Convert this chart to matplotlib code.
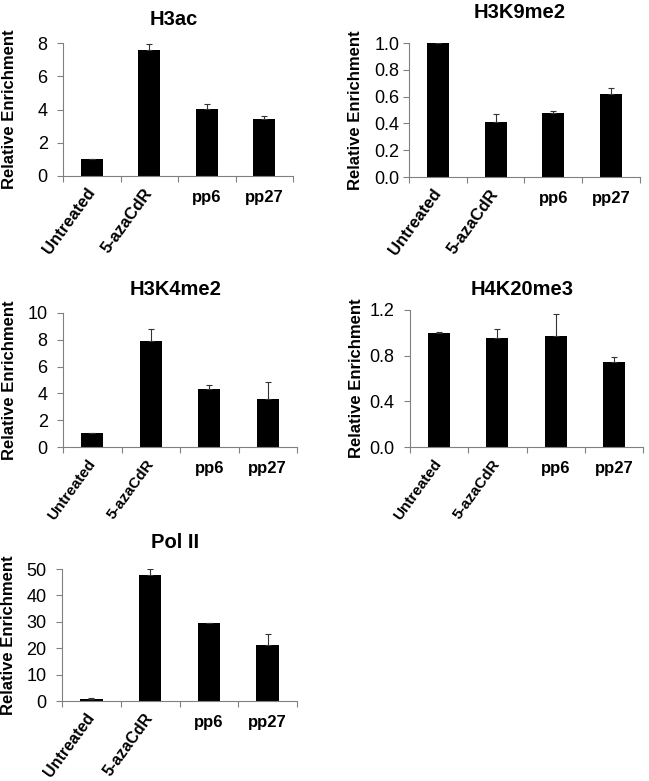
import matplotlib
matplotlib.use("Agg")
import matplotlib.pyplot as plt
import numpy as np

plt.rcParams['font.family'] = ['Liberation Sans', 'DejaVu Sans']

# data
cats = ['Untreated', '5-azaCdR', 'pp6', 'pp27']
titles = ['H3ac', 'H3K9me2', 'H3K4me2', 'H4K20me3', 'Pol II']

h3ac = [1.0, 7.55, 4.05, 3.4]
h3ac_err = [0.0, 0.38, 0.27, 0.2]
h3k9 = [1.0, 0.41, 0.475, 0.62]
h3k9_err = [0.0, 0.06, 0.02, 0.045]
h3k4 = [1.02, 7.94, 4.34, 3.6]
h3k4_err = [0.05, 0.87, 0.32, 1.24]
h4k20 = [1.0, 0.956, 0.976, 0.744]
h4k20_err = [0.005, 0.08, 0.185, 0.04]
pol2 = [0.9, 47.6, 29.5, 21.2]
pol2_err = [0.1, 2.4, 0.15, 4.0]

yticks = [[0, 2, 4, 6, 8],
          [0.0, 0.2, 0.4, 0.6, 0.8, 1.0],
          [0, 2, 4, 6, 8, 10],
          [0.0, 0.4, 0.8, 1.2],
          [0, 10, 20, 30, 40, 50]]
yfmt = ['{:.0f}', '{:.1f}', '{:.0f}', '{:.1f}', '{:.0f}']

vals = [h3ac, h3k9, h3k4, h4k20, pol2]
errs = [h3ac_err, h3k9_err, h3k4_err, h4k20_err, pol2_err]

# layout in pixels: left, top, right, bottom
W, H = 649, 781
rects = [(63, 43, 293, 176),
         (409, 43, 640, 177),
         (63, 313, 297, 447),
         (410, 310, 643, 447),
         (62, 569, 297, 701)]
tpad = [13, 18, 13, 11, 15]
ypad = [7, 3, 7, 7, 7]
rotsize = [12, 12, 11, 11, 11.5]

fig = plt.figure(figsize=(W / 100, H / 100), dpi=100)
grey = '#808080'

for i in range(5):
    l, t, r, b = rects[i]
    ax = fig.add_axes([l / W, 1 - b / H, (r - l) / W, (b - t) / H])
    x = np.arange(len(cats))
    ax.bar(x, vals[i], width=0.38, color='black', zorder=2)
    ax.errorbar(x, vals[i], yerr=[np.zeros(4), errs[i]], fmt='none',
                ecolor='#333333', elinewidth=0.8, capsize=2, capthick=0.8, zorder=3)
    ax.set_xlim(-0.5, 3.5)
    ax.set_ylim(yticks[i][0], yticks[i][-1])
    ax.set_yticks(yticks[i])
    ax.set_yticklabels([yfmt[i].format(v) for v in yticks[i]], fontsize=13)
    ax.set_xticks(np.arange(-0.5, 4, 1))
    ax.set_xticklabels([])
    # pp6 / pp27 horizontal, the first two rotated
    ax.set_xticks(x[2:], minor=True)
    ax.set_xticklabels(cats[2:], minor=True, fontsize=12, fontweight='bold')
    for k in range(2):
        ax.annotate(cats[k], xy=(x[k], 0), xycoords=('data', 'axes fraction'),
                    xytext=(0, -10), textcoords='offset points',
                    rotation=54, ha='right', va='center', rotation_mode='anchor',
                    fontsize=rotsize[i], fontweight='bold', annotation_clip=False)
    ax.tick_params(axis='x', which='minor', length=0, pad=10)
    ax.tick_params(axis='x', which='major', length=4, color=grey, width=0.8)
    ax.tick_params(axis='y', length=4, color=grey, width=0.8, pad=ypad[i])
    for s in ['top', 'right']:
        ax.spines[s].set_visible(False)
    for s in ['left', 'bottom']:
        ax.spines[s].set_color(grey)
        ax.spines[s].set_linewidth(0.8)
    ax.set_title(titles[i], fontsize=14.5, fontweight='bold', pad=tpad[i], x=0.48)
    ax.set_ylabel('Relative Enrichment', fontsize=12, fontweight='bold')
    ax.yaxis.set_label_coords(-46 / (r - l), 0.5)

fig.savefig('out.png', dpi=100)
